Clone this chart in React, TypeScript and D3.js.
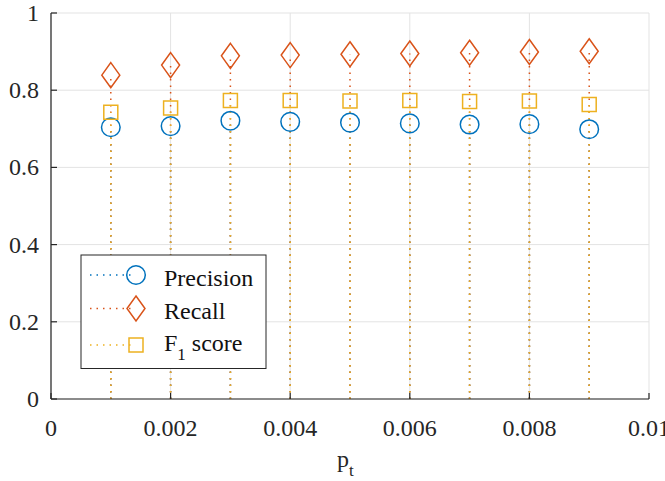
import React from 'react'
import * as d3 from 'd3'

const pt = [0.001, 0.002, 0.003, 0.004, 0.005, 0.006, 0.007, 0.008, 0.009]
const precision = [0.704, 0.707, 0.721, 0.718, 0.716, 0.714, 0.711, 0.712, 0.699]
const recall = [0.839, 0.865, 0.889, 0.891, 0.893, 0.895, 0.897, 0.899, 0.901]
const f1 = [0.743, 0.754, 0.773, 0.773, 0.772, 0.773, 0.771, 0.772, 0.763]

const xTicks = [0, 0.002, 0.004, 0.006, 0.008, 0.01]
const yTicks = [0, 0.2, 0.4, 0.6, 0.8, 1]

const blue = '#0072BD'
const orange = '#D95319'
const yellow = '#EDB120'

export default function App({
  width = 665,
  height = 481,
  marginTop = 13,
  marginRight = 16,
  marginBottom = 82,
  marginLeft = 51
}) {
  const x = d3.scaleLinear().domain([0, 0.01]).range([marginLeft, width - marginRight])
  const y = d3.scaleLinear().domain([0, 1]).range([height - marginBottom, marginTop])
  const font = '"Liberation Serif", "DejaVu Serif", serif'

  const diamond = (cx, cy) => `M${cx},${cy - 12.5}L${cx + 9},${cy}L${cx},${cy + 12.5}L${cx - 9},${cy}Z`
  const square = (cx, cy) => `M${cx - 7},${cy - 7}h14v14h-14Z`

  const stems = (vals, color) => vals.map((v, i) => (
    <line key={i} x1={x(pt[i])} x2={x(pt[i])} y1={y(0)} y2={y(v)}
      stroke={color} strokeWidth={1.5} strokeDasharray="1.5 5" />
  ))

  // legend rows: marker centre / text baseline (MATLAB centres the F_1 text box so it sits a bit higher)
  const legendRows = [
    { label: 'Precision', color: blue, kind: 'circle', my: 275, ty: 286 },
    { label: 'Recall', color: orange, kind: 'diamond', my: 308.5, ty: 318.5 },
    { label: 'F1', color: yellow, kind: 'square', my: 345, ty: 350.5 }
  ]

  return (
    <svg width={width} height={height} style={{ position: 'absolute', left: 0, top: 0, background: 'white' }}>
      <g stroke="#e3e3e3" strokeWidth={1}>
        {xTicks.map(t => <line key={'gx' + t} x1={x(t)} x2={x(t)} y1={y(0)} y2={y(1)} />)}
        {yTicks.map(t => <line key={'gy' + t} x1={x(0)} x2={x(0.01)} y1={y(t)} y2={y(t)} />)}
      </g>

      {stems(precision, blue)}
      {stems(recall, orange)}
      {stems(f1, yellow)}

      <g fill="none" strokeWidth={1.5}>
        {precision.map((v, i) => <circle key={'p' + i} cx={x(pt[i])} cy={y(v)} r={9.3} stroke={blue} />)}
        {recall.map((v, i) => <path key={'r' + i} d={diamond(x(pt[i]), y(v))} stroke={orange} />)}
        {f1.map((v, i) => <path key={'f' + i} d={square(x(pt[i]), y(v))} stroke={yellow} />)}
      </g>

      <g stroke="#262626" strokeWidth={1.2}>
        <line x1={x(0)} x2={x(0.01)} y1={y(0)} y2={y(0)} />
        <line x1={x(0)} x2={x(0)} y1={y(0)} y2={y(1)} />
        {xTicks.map(t => <line key={'tx' + t} x1={x(t)} x2={x(t)} y1={y(0)} y2={y(0) - 6} />)}
        {yTicks.map(t => <line key={'ty' + t} x1={x(0)} x2={x(0) + 6} y1={y(t)} y2={y(t)} />)}
      </g>

      <g fontFamily={font} fontSize={24} fill="#262626">
        {xTicks.map(t => (
          <text key={'lx' + t} x={x(t)} y={y(0) + 37} textAnchor="middle">{String(t)}</text>
        ))}
        {yTicks.map(t => (
          <text key={'ly' + t} x={x(0) - 12} y={y(t) + 8} textAnchor="end">{String(t)}</text>
        ))}
        <text x={337} y={467}>p<tspan fontSize={17} dy={9}>t</tspan></text>
      </g>

      <g>
        <rect x={81} y={255} width={185} height={113.5} fill="white" stroke="#262626" strokeWidth={1} />
        {legendRows.map(r => (
          <g key={r.label}>
            <line x1={90} x2={135} y1={r.my} y2={r.my} stroke={r.color} strokeWidth={1.5} strokeDasharray="1.5 5" />
            {r.kind === 'circle' && <circle cx={136} cy={r.my} r={9.3} fill="none" stroke={r.color} strokeWidth={1.5} />}
            {r.kind === 'diamond' && <path d={diamond(136, r.my)} fill="none" stroke={r.color} strokeWidth={1.5} />}
            {r.kind === 'square' && <path d={square(136, r.my)} fill="none" stroke={r.color} strokeWidth={1.5} />}
            <text x={164} y={r.ty} fontFamily={font} fontSize={24} fill="#111">
              {r.label === 'F1'
                ? <>F<tspan fontSize={17} dy={9.5}>1</tspan><tspan dy={-9.5}>{'\u00a0score'}</tspan></>
                : r.label}
            </text>
          </g>
        ))}
      </g>
    </svg>
  )
}
